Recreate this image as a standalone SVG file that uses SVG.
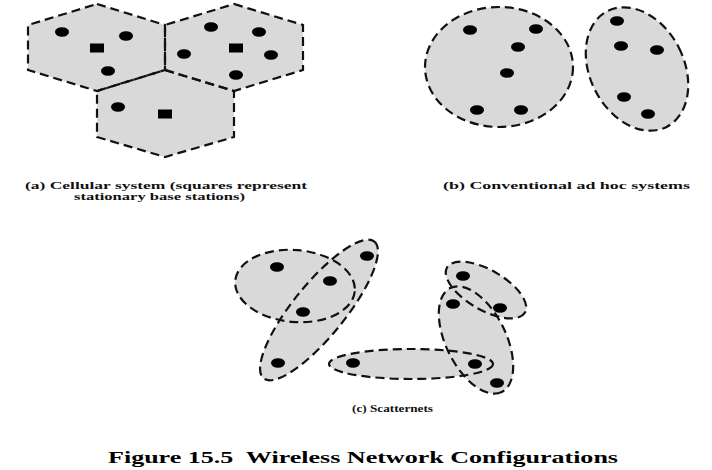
<svg xmlns="http://www.w3.org/2000/svg" xmlns:xlink="http://www.w3.org/1999/xlink" width="712" height="470" viewBox="0 0 712 470">
<style>
.fill{fill:#d9d9d9;stroke:none}
.edge{fill:none;stroke:#111;stroke-width:2.2;stroke-dasharray:9 5}
.dot{fill:#000}
.cap{font-family:"Liberation Serif","Times New Roman",serif;font-weight:bold;font-size:10.5px;fill:#111}
.title{font-family:"Liberation Serif","Times New Roman",serif;font-weight:bold;font-size:17px;fill:#000}
</style>
<defs>
<ellipse id="dot" cx="0" cy="0" rx="7" ry="4.8"/>
<rect id="bs" x="-7" y="-4.5" width="14" height="9"/>
<polygon id="hex1" points="97,4 165,25 165,70 97,91 28,70 28,25"/>
<polygon id="hex2" points="234,4 303,25 303,70 234,91 165,70 165,25"/>
<polygon id="hex3" points="165,70 234,91 234,137 165,157 97,137 97,91"/>
<ellipse id="e-b1" cx="499" cy="67" rx="74" ry="60"/>
<ellipse id="e-b2" cx="637" cy="69" rx="47" ry="65" transform="rotate(-27 637 69)"/>
<ellipse id="e-cA" cx="295" cy="286" rx="60" ry="36" transform="rotate(5 295 286)"/>
<ellipse id="e-cB" cx="319" cy="310" rx="88" ry="26" transform="rotate(-51 319 310)"/>
<ellipse id="e-cC" cx="411" cy="364" rx="82" ry="15"/>
<ellipse id="e-cD" cx="486" cy="290" rx="45" ry="20" transform="rotate(30 486 290)"/>
<ellipse id="e-cE" cx="476" cy="340" rx="58" ry="30" transform="rotate(63.7 476 340)"/>
</defs>
<rect width="712" height="470" fill="#fff"/>

<g id="fills">
<use href="#hex1" class="fill"/><use href="#hex2" class="fill"/><use href="#hex3" class="fill"/>
<use href="#e-b1" class="fill"/><use href="#e-b2" class="fill"/>
<use href="#e-cA" class="fill"/><use href="#e-cB" class="fill"/><use href="#e-cC" class="fill"/><use href="#e-cD" class="fill"/><use href="#e-cE" class="fill"/>
</g>

<g id="cell1"><use href="#hex1" class="edge"/>
<use href="#dot" x="62" y="32" class="dot"/><use href="#dot" x="126" y="36" class="dot"/><use href="#dot" x="108" y="71" class="dot"/>
<use href="#bs" x="97" y="48" class="dot"/></g>
<g id="cell2"><use href="#hex2" class="edge"/>
<use href="#dot" x="211" y="27" class="dot"/><use href="#dot" x="259" y="32" class="dot"/><use href="#dot" x="184" y="54" class="dot"/><use href="#dot" x="271" y="55" class="dot"/><use href="#dot" x="236" y="75" class="dot"/>
<use href="#bs" x="236" y="48" class="dot"/></g>
<g id="cell3"><use href="#hex3" class="edge"/>
<use href="#dot" x="118" y="107" class="dot"/>
<use href="#bs" x="165" y="114" class="dot"/></g>

<g id="adhoc1"><use href="#e-b1" class="edge"/>
<use href="#dot" x="470" y="30" class="dot"/><use href="#dot" x="536" y="29" class="dot"/><use href="#dot" x="518" y="47" class="dot"/><use href="#dot" x="507" y="73" class="dot"/><use href="#dot" x="477" y="110" class="dot"/><use href="#dot" x="521" y="110" class="dot"/></g>
<g id="adhoc2"><use href="#e-b2" class="edge"/>
<use href="#dot" x="617" y="21" class="dot"/><use href="#dot" x="621" y="46" class="dot"/><use href="#dot" x="657" y="50" class="dot"/><use href="#dot" x="624" y="97" class="dot"/><use href="#dot" x="648" y="114" class="dot"/></g>

<g id="piconetA"><use href="#e-cA" class="edge"/></g>
<g id="piconetB"><use href="#e-cB" class="edge"/></g>
<g id="piconetC"><use href="#e-cC" class="edge"/></g>
<g id="piconetD"><use href="#e-cD" class="edge"/></g>
<g id="piconetE"><use href="#e-cE" class="edge"/></g>
<g id="scatter-devices">
<use href="#dot" x="277" y="267" class="dot"/><use href="#dot" x="330" y="281" class="dot"/><use href="#dot" x="303" y="312" class="dot"/><use href="#dot" x="367" y="256" class="dot"/><use href="#dot" x="278" y="363" class="dot"/><use href="#dot" x="353" y="363" class="dot"/>
<use href="#dot" x="463" y="276" class="dot"/><use href="#dot" x="500" y="308" class="dot"/><use href="#dot" x="453" y="304" class="dot"/><use href="#dot" x="475" y="364" class="dot"/><use href="#dot" x="497" y="383" class="dot"/>
</g>
<g id="connectors"/>

<g id="labels">
<text class="cap" x="25" y="189" textLength="282" lengthAdjust="spacingAndGlyphs">(a) Cellular system (squares represent</text>
<text class="cap" x="74" y="200" textLength="171" lengthAdjust="spacingAndGlyphs">stationary base stations)</text>
<text class="cap" x="443" y="189" textLength="247" lengthAdjust="spacingAndGlyphs">(b) Conventional ad hoc systems</text>
<text class="cap" x="352" y="412" textLength="81" lengthAdjust="spacingAndGlyphs">(c) Scatternets</text>
<text class="title" x="108" y="463" textLength="510" lengthAdjust="spacingAndGlyphs" xml:space="preserve">Figure 15.5  Wireless Network Configurations</text>
</g>
</svg>
